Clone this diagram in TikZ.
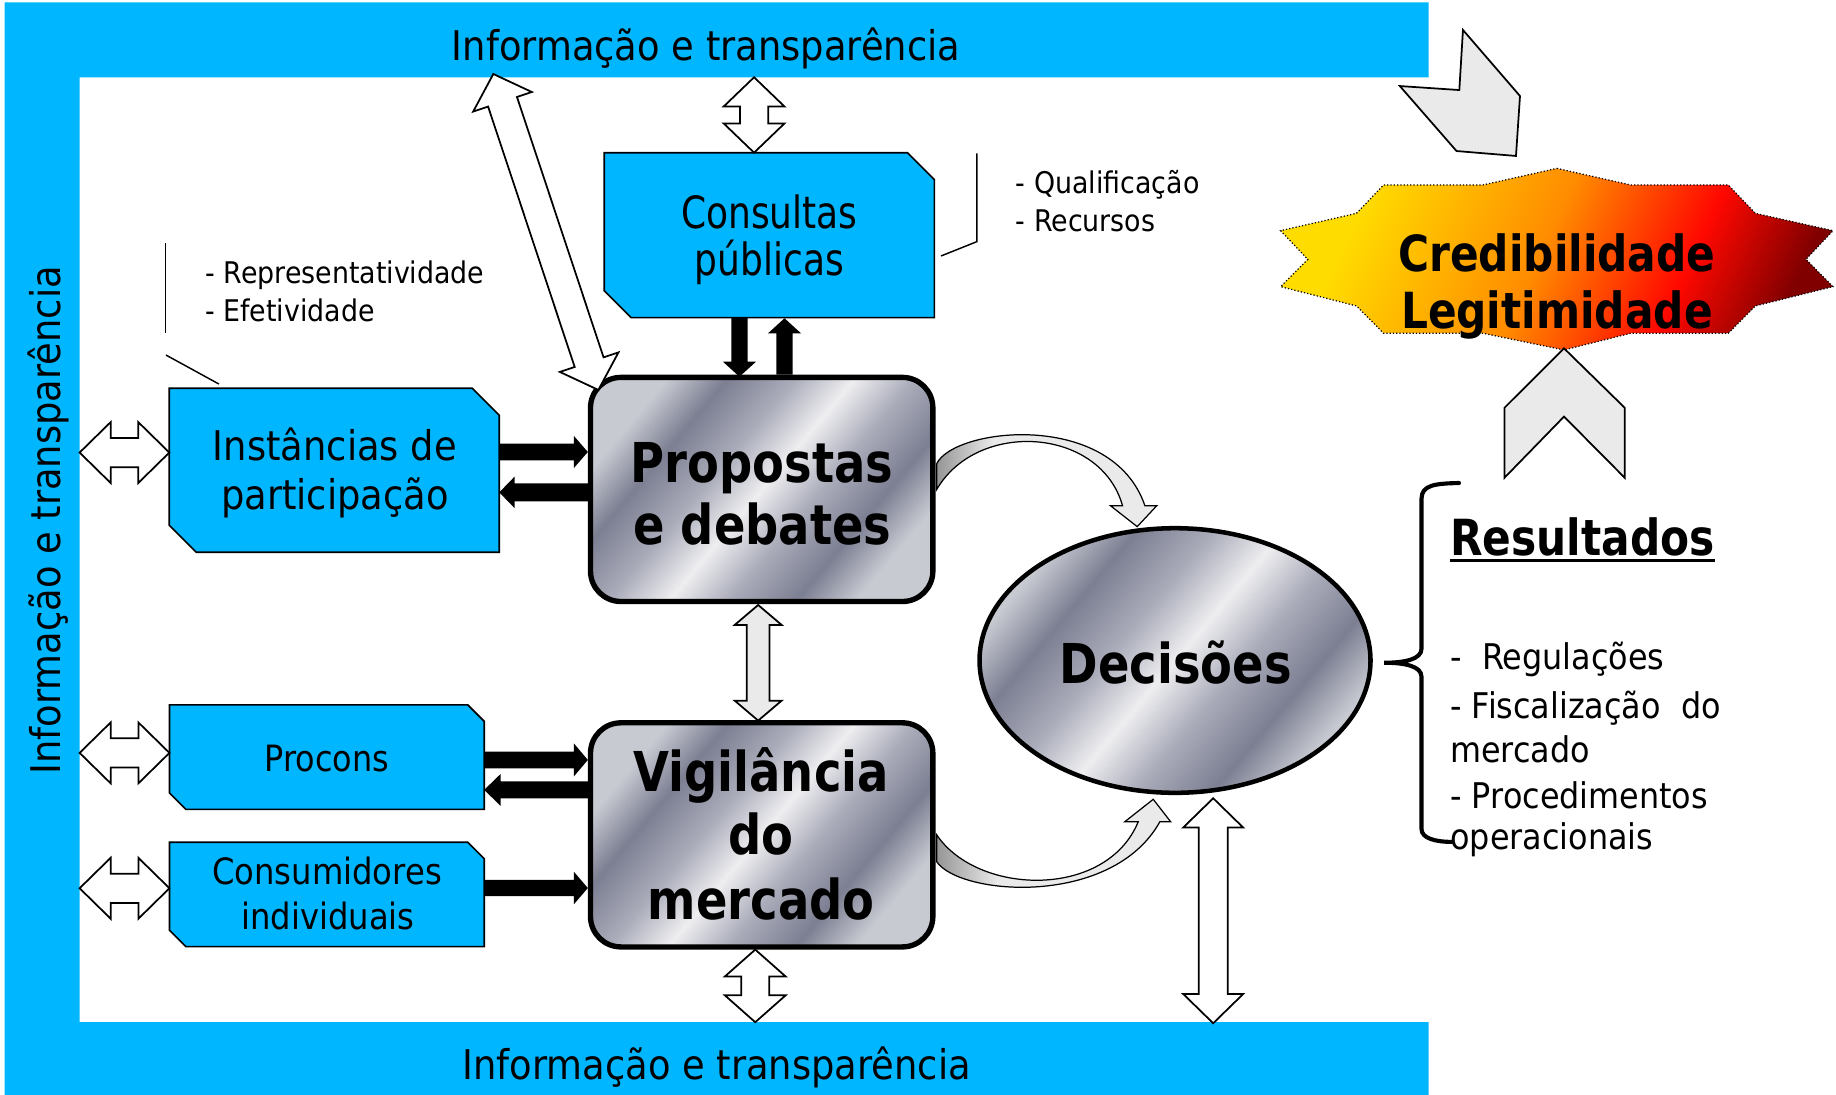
\documentclass[tikz,border=0pt]{standalone}
\usepackage{fontspec}
\setmainfont{DejaVu Sans}
\usepackage{graphicx}
\usetikzlibrary{calc,shapes.geometric}

\definecolor{fblue}{RGB}{0,182,255}
\definecolor{lgray}{RGB}{234,234,234}
\definecolor{rdark}{RGB}{150,150,150}
\definecolor{mA}{RGB}{200,202,210}
\definecolor{mD}{RGB}{124,127,146}
\definecolor{mM}{RGB}{170,172,186}
\definecolor{mL}{RGB}{238,238,240}
\definecolor{fy}{RGB}{255,220,0}
\definecolor{fo}{RGB}{255,140,0}
\definecolor{fr}{RGB}{255,8,0}
\definecolor{fdr}{RGB}{128,0,0}

\pgfdeclarehorizontalshading{metal}{100bp}{color(0bp)=(mA); color(25bp)=(mA); color(33bp)=(mD); color(42bp)=(mM); color(50bp)=(mL); color(58bp)=(mM); color(67bp)=(mD); color(75bp)=(mA); color(100bp)=(mA)}
\pgfdeclarehorizontalshading{fire}{100bp}{color(0bp)=(fy); color(27bp)=(fy); color(48bp)=(fo); color(64bp)=(fr); color(76bp)=(fdr); color(100bp)=(fdr)}
\pgfdeclarehorizontalshading{ribbon}{100bp}{color(0bp)=(rdark); color(25bp)=(rdark); color(38bp)=(lgray); color(100bp)=(lgray)}

\newcommand\pxl{0.02cm}
\newcommand\hsq[2]{\scalebox{#1}[1]{#2}}

% block arrow: style, from, to, shaft half width, head half width, head length (px)
\newcommand\blockarrow[6]{%
\path[#1] let \p1=(#2), \p2=(#3), \n1={veclen(\x2-\x1,\y2-\y1)}, \n2={(\x2-\x1)/\n1}, \n3={(\y2-\y1)/\n1}, \n4={#4*0.569}, \n5={#5*0.569}, \n6={\n1-#6*0.569} in
 ({\x1-\n4*\n3},{\y1+\n4*\n2}) -- ({\x1+\n6*\n2-\n4*\n3},{\y1+\n6*\n3+\n4*\n2}) -- ({\x1+\n6*\n2-\n5*\n3},{\y1+\n6*\n3+\n5*\n2}) -- (\p2) -- ({\x1+\n6*\n2+\n5*\n3},{\y1+\n6*\n3-\n5*\n2}) -- ({\x1+\n6*\n2+\n4*\n3},{\y1+\n6*\n3-\n4*\n2}) -- ({\x1+\n4*\n3},{\y1-\n4*\n2}) -- cycle;}

\newcommand\dblarrow[6]{%
\path[#1] let \p1=(#2), \p2=(#3), \n1={veclen(\x2-\x1,\y2-\y1)}, \n2={(\x2-\x1)/\n1}, \n3={(\y2-\y1)/\n1}, \n4={#4*0.569}, \n5={#5*0.569}, \n6={#6*0.569}, \n7={\n1-#6*0.569} in
 (\p1) -- ({\x1+\n6*\n2-\n5*\n3},{\y1+\n6*\n3+\n5*\n2}) -- ({\x1+\n6*\n2-\n4*\n3},{\y1+\n6*\n3+\n4*\n2}) -- ({\x1+\n7*\n2-\n4*\n3},{\y1+\n7*\n3+\n4*\n2}) -- ({\x1+\n7*\n2-\n5*\n3},{\y1+\n7*\n3+\n5*\n2}) -- (\p2) -- ({\x1+\n7*\n2+\n5*\n3},{\y1+\n7*\n3-\n5*\n2}) -- ({\x1+\n7*\n2+\n4*\n3},{\y1+\n7*\n3-\n4*\n2}) -- ({\x1+\n6*\n2+\n4*\n3},{\y1+\n6*\n3-\n4*\n2}) -- ({\x1+\n6*\n2+\n5*\n3},{\y1+\n6*\n3-\n5*\n2}) -- cycle;}

\begin{document}
\begin{tikzpicture}[x=0.02cm, y=-0.02cm,
  hold/.style={inner sep=0, outer sep=0, draw=none},
  bluebox/.style={fill=fblue, draw=black, line width=0.8pt, line join=miter},
  metalbox/.style={draw=black, line width=2.6pt, outer sep=1.3pt, rounded corners=0.52cm, shade, shading=metal, shading angle=-40, inner sep=0},
  warrow/.style={draw=black, fill=white, line width=0.85pt, line join=miter},
  garrow/.style={draw=black, fill=lgray, line width=0.85pt, line join=miter},
  barrow/.style={fill=black},
  chev/.style={draw=black, fill=lgray, line width=0.85pt, line join=miter},
  thin line/.style={draw=black, line width=0.7pt},
  txt/.style={inner sep=0, anchor=base},
  tframe/.style={txt, font=\fontsize{19.9}{24}\selectfont},
  tbox/.style={txt, font=\fontsize{19.9}{24}\selectfont},
  tboxc/.style={txt, font=\fontsize{21.6}{26}\selectfont},
  tboxs/.style={txt, font=\fontsize{17.6}{21}\selectfont},
  tnote/.style={txt, anchor=base west, font=\fontsize{14.5}{18}\selectfont},
  tlist/.style={txt, anchor=base west, font=\fontsize{17.2}{21}\selectfont},
  tbig/.style={txt, font=\fontsize{26.7}{32}\selectfont\bfseries},
  tmid/.style={txt, font=\fontsize{24.2}{29}\selectfont\bfseries}
]
\useasboundingbox (0,0) rectangle (1568,935);
\fill[white] (0,0) rectangle (1568,935);

% frame
\fill[fblue] (4,2) -- (1220,2) -- (1220,66) -- (68,66) -- (68,873) -- (1220,873) -- (1220,935) -- (4,935) -- cycle;
\node[tframe] (ftxt1) at (603,52) {\hsq{.9}{Informação e transparência}};
\node[tframe] (ftxt2) at (612,922) {\hsq{.9}{Informação e transparência}};
\node[tframe, rotate=90] (ftxt3) at (52,444.4) {\hsq{.9}{Informação e transparência}};

\coordinate (ftop) at (644,66);
\coordinate (fdiag) at (421.3,63.2);
\coordinate (fbot1) at (645,873);
\coordinate (fbot2) at (1036.1,873.9);
\coordinate (fl1) at (68,386.5);
\coordinate (fl2) at (68,643);
\coordinate (fl3) at (68,758.6);

% node holders
\node[hold, minimum width={282*\pxl}, minimum height={140.9*\pxl}] (cons) at (657,200.85) {};
\node[hold, minimum width={281.8*\pxl}, minimum height={140.1*\pxl}] (inst) at (285.5,401.65) {};
\node[hold, minimum width={268.8*\pxl}, minimum height={89.2*\pxl}] (proc) at (279.1,646.6) {};
\node[hold, minimum width={268.8*\pxl}, minimum height={89.1*\pxl}] (consu) at (279.1,763.85) {};
\node[hold, minimum width={292.4*\pxl}, minimum height={191.4*\pxl}, outer sep=1.3pt] (prop) at (650.5,418) {};
\node[hold, minimum width={292.4*\pxl}, minimum height={191.4*\pxl}, outer sep=1.3pt] (vig) at (650.5,713) {};
\node[hold, ellipse, minimum width={333.9*\pxl}, minimum height={226*\pxl}, outer sep=1.1pt] (dec) at (1003.5,564.1) {};

% curved arrows (behind boxes)
\coordinate (ca1) at ($(prop.east)+(1,-22)$);
\coordinate (ca2) at ($(prop.east)+(1,0)$);
\coordinate (cat) at ($(dec.north)+(-32.3,0.6)$);
\shadedraw[shading=ribbon, draw=black, line width=0.6pt, line join=miter]
  (ca1) .. controls (815,365) and (950,350) .. (977.8,432) -- (987.8,432) -- (cat) -- (948.5,432) -- (958.7,432)
  .. controls (940,365) and (835,358) .. (ca2) -- cycle;
\coordinate (cb1) at ($(vig.east)+(1,23)$);
\coordinate (cb2) at ($(vig.east)+(1,0)$);
\coordinate (cbt) at ($(dec.south)+(-18.6,3.6)$);
\shadedraw[shading=ribbon, draw=black, line width=0.6pt, line join=miter]
  (cb1) .. controls (820,765) and (950,775) .. (990.6,701.7) -- (999.7,701.7) -- (cbt) -- (960.7,701.7) -- (972.1,701.7)
  .. controls (945,768) and (835,765) .. (cb2) -- cycle;

% blue boxes
\draw[bluebox] (cons.north west) -- ($(cons.north east)+(-23,0)$) -- ($(cons.north east)+(0,23)$) -- (cons.south east) -- ($(cons.south west)+(23,0)$) -- ($(cons.south west)+(0,-23)$) -- cycle;
\draw[bluebox] (inst.north west) -- ($(inst.north east)+(-23,0)$) -- ($(inst.north east)+(0,23)$) -- (inst.south east) -- ($(inst.south west)+(23,0)$) -- ($(inst.south west)+(0,-23)$) -- cycle;
\draw[bluebox] (proc.north west) -- ($(proc.north east)+(-14,0)$) -- ($(proc.north east)+(0,14)$) -- (proc.south east) -- ($(proc.south west)+(14,0)$) -- ($(proc.south west)+(0,-14)$) -- cycle;
\draw[bluebox] (consu.north west) -- ($(consu.north east)+(-14,0)$) -- ($(consu.north east)+(0,14)$) -- (consu.south east) -- ($(consu.south west)+(14,0)$) -- ($(consu.south west)+(0,-14)$) -- cycle;

\node[tboxc] (tcons1) at (657,195) {\hsq{.81}{Consultas}};
\node[tboxc] (tcons2) at (657,235) {\hsq{.81}{públicas}};
\node[tbox] (tinst1) at (286,393.4) {\hsq{.9}{Instâncias de}};
\node[tbox] (tinst2) at (286,435) {\hsq{.9}{participação}};
\node[tboxs] (tproc) at (279.3,659) {\hsq{.88}{Procons}};
\node[tboxs] (tcon1) at (279.3,755.8) {\hsq{.89}{Consumidores}};
\node[tboxs] (tcon2) at (280,794.2) {\hsq{.89}{individuais}};

% metal boxes
\node[metalbox, minimum width={292.4*\pxl}, minimum height={191.4*\pxl}] at (prop.center) {};
\node[metalbox, minimum width={292.4*\pxl}, minimum height={191.4*\pxl}] at (vig.center) {};
\node[draw=black, ellipse, line width=2.2pt, shade, shading=metal, shading angle=-40, inner sep=0, minimum width={333.9*\pxl}, minimum height={226*\pxl}] at (dec.center) {};

\node[tbig] (tprop1) at (651,412) {\hsq{.845}{Propostas}};
\node[tbig] (tprop2) at (651,465) {\hsq{.845}{e debates}};
\node[tbig] (tvig1) at (650,676) {\hsq{.845}{Vigilância}};
\node[tbig] (tvig2) at (650,730) {\hsq{.845}{do}};
\node[tbig] (tvig3) at (650,785.7) {\hsq{.845}{mercado}};
\node[tbig] (tdec) at (1004,583.5) {\hsq{.845}{Decisões}};

% black arrows
\coordinate (ip1) at ($(inst.east)+(0,-15.65)$);
\coordinate (ip2) at ($(prop.west)+(0,-32)$);
\coordinate (pi1) at ($(prop.west)+(0,2.5)$);
\coordinate (pi2) at ($(inst.east)+(0,18.85)$);
\coordinate (pva1) at ($(proc.east)+(0,2.4)$);
\coordinate (pva2) at ($(vig.west)+(0,-64)$);
\coordinate (vp1) at ($(vig.west)+(0,-38.4)$);
\coordinate (vp2) at ($(proc.east)+(0,28)$);
\coordinate (cv1) at ($(consu.east)+(0,-5.45)$);
\coordinate (cv2) at ($(vig.west)+(0,45.4)$);
\coordinate (cp1) at ($(cons.south)+(-25.5,0)$);
\coordinate (cp2) at ($(prop.north)+(-19,1.7)$);
\coordinate (pc1) at ($(prop.north)+(19.5,0)$);
\coordinate (pc2) at ($(cons.south)+(13,0.5)$);
\blockarrow{barrow}{ip1}{ip2}{7.2}{13.8}{12}
\blockarrow{barrow}{pi1}{pi2}{7.6}{13.4}{13}
\blockarrow{barrow}{pva1}{pva2}{7.2}{14.2}{12}
\blockarrow{barrow}{vp1}{vp2}{7.2}{13.6}{14}
\blockarrow{barrow}{cv1}{cv2}{7}{14}{12}
\blockarrow{barrow}{cp1}{cp2}{6.9}{14.1}{12.8}
\blockarrow{barrow}{pc1}{pc2}{6.9}{14.1}{12.9}

% white / gray double arrows
\coordinate (ct) at ($(cons.north)+(-13,0)$);
\coordinate (vb) at ($(vig.south)+(-5.5,0)$);
\coordinate (il) at ($(inst.west)+(0,-15.15)$);
\coordinate (pl) at ($(proc.west)+(0,-3.6)$);
\coordinate (cl) at ($(consu.west)+(0,-5.25)$);
\coordinate (dg1) at ($(prop.north west)+(9,13)$);
\coordinate (dd1) at ($(dec.south)+(32.6,2.7)$);
\coordinate (pv1) at ($(prop.south)+(-3,0.7)$);
\coordinate (pv2) at ($(vig.north)+(-3,0.4)$);
\dblarrow{warrow}{ftop}{ct}{12}{26}{25}
\dblarrow{warrow}{vb}{fbot1}{12}{26}{23}
\dblarrow{warrow}{fl1}{il}{12.5}{26}{26.5}
\dblarrow{warrow}{fl2}{pl}{12.5}{26}{26.5}
\dblarrow{warrow}{fl3}{cl}{12.5}{26}{26.5}
\dblarrow{warrow}{dg1}{fdiag}{13}{26.4}{25}
\dblarrow{warrow}{dd1}{fbot2}{12.4}{25.6}{25}
\dblarrow{garrow}{pv1}{pv2}{9.7}{20}{17}

% notes with brackets
\draw[thin line] (141.5,207.8) -- (141.5,284);
\draw[thin line] (141.7,303.2) -- (187,328);
\node[tnote] (nrep1) at (175,242.5) {\hsq{.9}{- Representatividade}};
\node[tnote] (nrep2) at (175,274.7) {\hsq{.9}{- Efetividade}};
\draw[thin line] (834.2,131) -- (834.2,206.4) -- (803.7,218.6);
\node[tnote] (nq1) at (867.3,165.1) {\hsq{.9}{- Qualificação}};
\node[tnote] (nq2) at (867.3,197.8) {\hsq{.9}{- Recursos}};

% star
\shadedraw[shading=fire, shading angle=-25, draw=black, densely dotted, line width=0.6pt]
 (1329.6,143.8) -- (1392.8,158) -- (1476,158) -- (1499.1,182.2) -- (1565.4,197) -- (1542.3,221.5) -- (1565.4,244.8) -- (1499.1,261.3) -- (1476,284.6) -- (1392.8,284.6) -- (1335.7,298.9) -- (1266.4,284.6) -- (1181.6,284.6) -- (1158.5,261.3) -- (1093.7,244.8) -- (1116.9,221.5) -- (1093.7,197) -- (1158.5,182.2) -- (1181.6,158) -- (1266.4,158) -- cycle;
\node[tmid] (tcred1) at (1329.6,232) {\hsq{.85}{Credibilidade}};
\node[tmid] (tcred2) at (1329.6,280.4) {\hsq{.85}{Legitimidade}};

% chevrons
\draw[chev] (1249.4,25.6) -- (1298.1,82) -- (1294.7,133.2) -- (1243.9,129) -- (1195.5,73.5) -- (1246.3,76.9) -- cycle;
\draw[chev] (1335.7,297.5) -- (1387.5,348.2) -- (1387.5,408) -- (1335.7,355.8) -- (1284.9,408) -- (1284.9,348.2) -- cycle;

% results
\draw[line width=2pt, line cap=round] (1246,412.5) .. controls (1226,413) and (1214,414) .. (1214,426) -- (1214,554) .. controls (1214,563) and (1200,566) .. (1182,566) .. controls (1200,566) and (1214,569) .. (1214,578) -- (1214,708) .. controls (1214,716) and (1226,719) .. (1240,719);
\node[tmid, anchor=base west] (tres) at (1238.3,474.8) {\hsq{.85}{Resultados}};
\draw[line width=1.3pt] ($(tres.base west)+(0,3.6)$) -- ($(tres.base east)+(0,3.6)$);
\node[tlist] (l1) at (1238.3,572.2) {\hsq{.9}{-\ \ Regulações}};
\node[tlist] (l2) at (1238.3,613.4) {\hsq{.9}{- Fiscalização\ \ do}};
\node[tlist] (l3) at (1238.3,651) {\hsq{.9}{mercado}};
\node[tlist] (l4) at (1238.3,690.3) {\hsq{.9}{- Procedimentos}};
\node[tlist] (l5) at (1238.3,725.9) {\hsq{.9}{operacionais}};
\end{tikzpicture}
\end{document}
